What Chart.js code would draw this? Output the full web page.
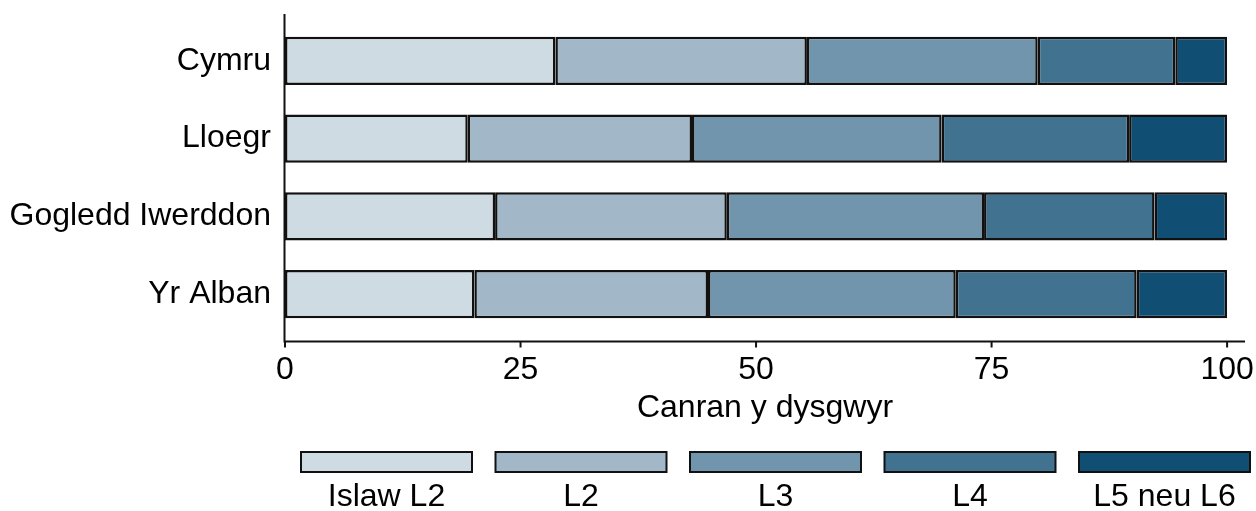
<!DOCTYPE html>
<html>
<head>
<meta charset="utf-8">
<script src="https://cdn.jsdelivr.net/npm/chart.js@4/dist/chart.umd.min.js"></script>
<style>
  html, body { margin: 0; padding: 0; background: #fff; }
  #wrap { width: 1256px; height: 511px; }
</style>
</head>
<body>
<div id="wrap"><canvas id="chart" width="1256" height="511"></canvas></div>
<script>
// Data (percent of learners)
const countries = ["Cymru", "Lloegr", "Gogledd Iwerddon", "Yr Alban"];
const levels = ["Islaw L2", "L2", "L3", "L4", "L5 neu L6"];
const belowL2 = [28.7, 19.4, 22.3, 20.1];
const l2 = [26.7, 23.8, 24.6, 24.8];
const l3 = [24.5, 26.5, 27.3, 26.3];
const l4 = [14.6, 19.9, 18.1, 19.2];
const l5or6 = [5.5, 10.4, 7.7, 9.6];
const xTicks = [0, 25, 50, 75, 100];
const colours = ["#cfdbe3", "#a2b8c8", "#7295ae", "#417290", "#114e74"];

const FONT = "'Liberation Sans', Arial, sans-serif";
const FONT_SIZE = 32;
const seriesValues = [belowL2, l2, l3, l4, l5or6];

// Axis lines sit a little outside the bar area, so draw them by hand
const axisLines = {
  id: "axisLines",
  afterDraw(chart) {
    const { ctx, chartArea } = chart;
    const x = chart.scales.x;
    const axisY = chartArea.bottom + 8.5;
    ctx.save();
    ctx.strokeStyle = "#111";
    ctx.lineWidth = 2;
    ctx.beginPath();
    ctx.moveTo(chartArea.left - 0.5, chartArea.top - 8);
    ctx.lineTo(chartArea.left - 0.5, axisY);
    ctx.lineTo(chartArea.right, axisY);
    xTicks.forEach((v) => {
      const px = x.getPixelForValue(v);
      ctx.moveTo(px, axisY);
      ctx.lineTo(px, axisY + 6);
    });
    ctx.stroke();
    ctx.restore();
  },
};

// Legend with the swatch above each label
const boxLegend = {
  id: "boxLegend",
  afterDraw(chart) {
    const { ctx } = chart;
    const startX = 301, boxW = 171, boxH = 20, gap = 23.5, boxY = 452;
    ctx.save();
    ctx.font = FONT_SIZE + "px " + FONT;
    ctx.textAlign = "center";
    ctx.textBaseline = "middle";
    chart.data.datasets.forEach((ds, i) => {
      const bx = startX + i * (boxW + gap);
      ctx.fillStyle = ds.backgroundColor;
      ctx.fillRect(bx, boxY, boxW, boxH);
      ctx.strokeStyle = "#111";
      ctx.lineWidth = 2;
      ctx.strokeRect(bx, boxY, boxW, boxH);
      ctx.fillStyle = "#000";
      ctx.fillText(ds.label, bx + boxW / 2, 497);
    });
    ctx.restore();
  },
};

new Chart(document.getElementById("chart"), {
  type: "bar",
  data: {
    labels: countries,
    datasets: levels.map((lvl, i) => ({
      label: lvl,
      data: seriesValues[i],
      backgroundColor: colours[i],
      borderColor: "#111",
      borderWidth: 2.5,
      borderSkipped: false,
      categoryPercentage: 1,
      barPercentage: 0.62,
    })),
  },
  options: {
    indexAxis: "y",
    responsive: false,
    animation: false,
    layout: { padding: { top: 22, right: 11, bottom: 84, left: 0 } },
    plugins: {
      legend: { display: false },
      tooltip: { enabled: false },
    },
    scales: {
      x: {
        stacked: true,
        min: 0,
        max: 101.9,
        grid: { display: false },
        border: { display: false },
        afterBuildTicks: (scale) => {
          scale.ticks = xTicks.map((v) => ({ value: v }));
        },
        afterFit: (scale) => {
          scale.height = 94;
          scale.paddingLeft = 0;
          scale.paddingRight = 0;
        },
        ticks: {
          color: "#000",
          font: { family: FONT, size: FONT_SIZE },
          padding: 10,
          maxRotation: 0,
        },
        title: {
          display: true,
          text: "Canran y dysgwyr",
          color: "#000",
          font: { family: FONT, size: FONT_SIZE },
          padding: { top: 0, bottom: 0 },
        },
      },
      y: {
        stacked: true,
        grid: { display: false },
        border: { display: false },
        afterFit: (scale) => {
          scale.width = 285;
          scale.paddingTop = 0;
          scale.paddingBottom = 0;
        },
        ticks: {
          color: "#000",
          font: { family: FONT, size: FONT_SIZE },
          padding: 6,
        },
      },
    },
  },
  plugins: [axisLines, boxLegend],
});
</script>
</body>
</html>
